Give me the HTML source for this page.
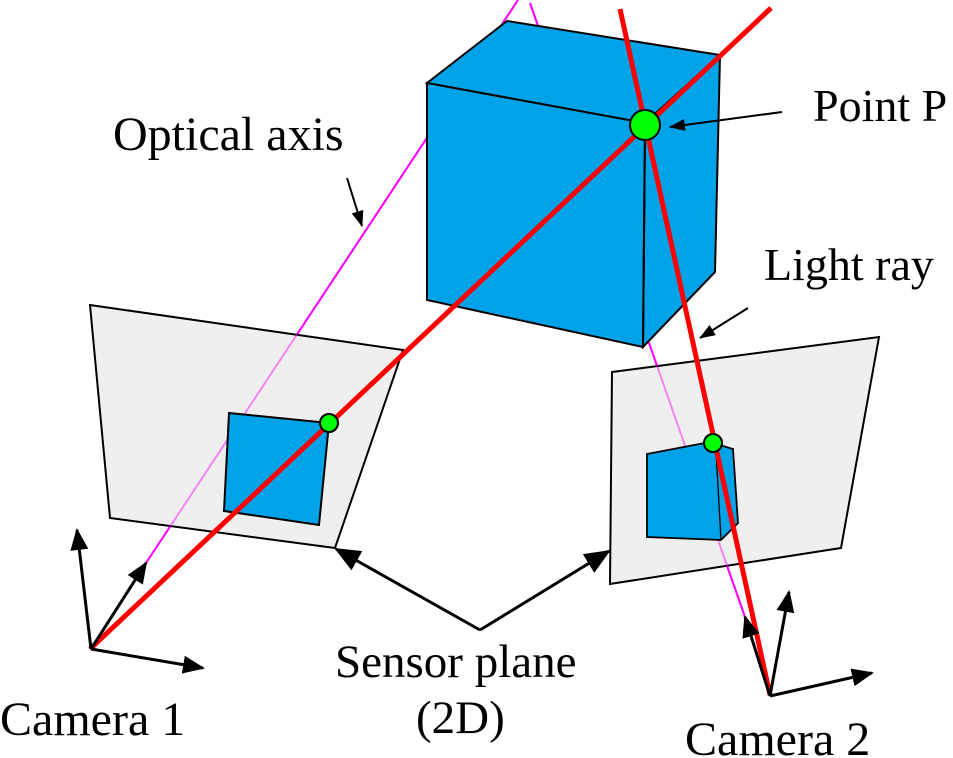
<!DOCTYPE html>
<html><head><meta charset="utf-8">
<style>
html,body{margin:0;padding:0;background:#fff;}
svg{display:block;}
text{font-family:"Liberation Serif","DejaVu Serif",serif;fill:#000;}
</style></head>
<body>
<svg width="953" height="758" viewBox="0 0 953 758" xmlns="http://www.w3.org/2000/svg">
<defs>
<marker id="ah" markerWidth="22" markerHeight="18" refX="20" refY="9" orient="auto" markerUnits="userSpaceOnUse">
<path d="M0,0 L22,9 L0,18 z" fill="#000"/>
</marker>
<marker id="ab" markerWidth="26" markerHeight="22" refX="24" refY="11" orient="auto" markerUnits="userSpaceOnUse">
<path d="M0,0 L26,11 L0,22 z" fill="#000"/>
</marker>
<marker id="as" markerWidth="16" markerHeight="12" refX="15" refY="6" orient="auto" markerUnits="userSpaceOnUse">
<path d="M0,0 L16,6 L0,12 z" fill="#000"/>
</marker>
</defs>

<!-- optical axes (magenta) -->
<line x1="146" y1="563" x2="518" y2="0" stroke="#ff00ff" stroke-width="2"/>
<line x1="745" y1="617" x2="530" y2="3" stroke="#ff00ff" stroke-width="2"/>

<!-- sensor planes -->
<polygon points="90,305 403,350 335,548 110,518" fill="#efefef" stroke="#000" stroke-width="2"/>
<polygon points="612,372 879,337 841,548 610,584" fill="#efefef" stroke="#000" stroke-width="2"/>

<!-- lighter magenta over planes -->
<line x1="146" y1="563" x2="518" y2="0" stroke="#ff00ff" stroke-width="2" stroke-opacity="0.45"/>
<line x1="745" y1="617" x2="530" y2="3" stroke="#ff00ff" stroke-width="2" stroke-opacity="0.45"/>

<!-- projected images -->
<polygon points="229,413 329,423 319,525 224,511" fill="#00a2e8" stroke="#000" stroke-width="2"/>
<polygon points="647,454 710,442 733,449 738,523 721,540 647,537" fill="#00a2e8" stroke="#000" stroke-width="1.8"/>
<line x1="716" y1="451" x2="721" y2="540" stroke="#000" stroke-width="1.3"/>

<!-- big cube -->
<polygon points="427,83 507,21 720,55 645,123" fill="#00a2e8" stroke="#000" stroke-width="2"/>
<polygon points="645,123 720,55 715,272 643,347" fill="#00a2e8" stroke="#000" stroke-width="2"/>
<polygon points="427,83 645,123 643,347 427,300" fill="#00a2e8" stroke="#000" stroke-width="2"/>
<line x1="645" y1="123" x2="643" y2="347" stroke="#000" stroke-width="2"/>

<!-- light rays -->
<line x1="90" y1="649" x2="771" y2="8" stroke="#ff0000" stroke-width="5"/>
<line x1="620" y1="9" x2="770" y2="695" stroke="#ff0000" stroke-width="5"/>

<!-- points -->
<circle cx="645" cy="125" r="15" fill="#00ff00" stroke="#000" stroke-width="2"/>
<circle cx="329" cy="423" r="9" fill="#00ff00" stroke="#000" stroke-width="2"/>
<circle cx="713" cy="443" r="9" fill="#00ff00" stroke="#000" stroke-width="2"/>

<!-- camera 1 axes -->
<g stroke="#000" stroke-width="3" fill="none">
<line x1="91" y1="649" x2="77" y2="530" marker-end="url(#ah)"/>
<line x1="91" y1="649" x2="146" y2="563" marker-end="url(#ah)"/>
<line x1="91" y1="649" x2="203" y2="668" marker-end="url(#ah)"/>
<!-- camera 2 axes -->
<line x1="770" y1="696" x2="789" y2="592" marker-end="url(#ah)"/>
<line x1="770" y1="696" x2="745" y2="617" marker-end="url(#ah)"/>
<line x1="770" y1="696" x2="872" y2="673" marker-end="url(#ah)"/>
<!-- sensor plane label arrows -->
<line x1="480" y1="630" x2="336" y2="549" marker-end="url(#ab)"/>
<line x1="480" y1="630" x2="609" y2="551" marker-end="url(#ab)"/>
</g>
<g stroke="#000" stroke-width="2" fill="none">
<line x1="347" y1="178" x2="362" y2="226" marker-end="url(#as)"/>
<line x1="782" y1="112" x2="670" y2="127" marker-end="url(#as)"/>
<line x1="748" y1="308" x2="700" y2="338" marker-end="url(#as)"/>
</g>

<!-- labels -->
<text x="113" y="150" font-size="48">Optical axis</text>
<text x="813" y="121" font-size="46">Point P</text>
<text x="764" y="280" font-size="46">Light ray</text>
<text x="0" y="735" font-size="48">Camera 1</text>
<text x="335" y="677" font-size="47">Sensor plane</text>
<text x="416" y="733" font-size="47">(2D)</text>
<text x="685" y="755" font-size="48">Camera 2</text>
</svg>
</body></html>
